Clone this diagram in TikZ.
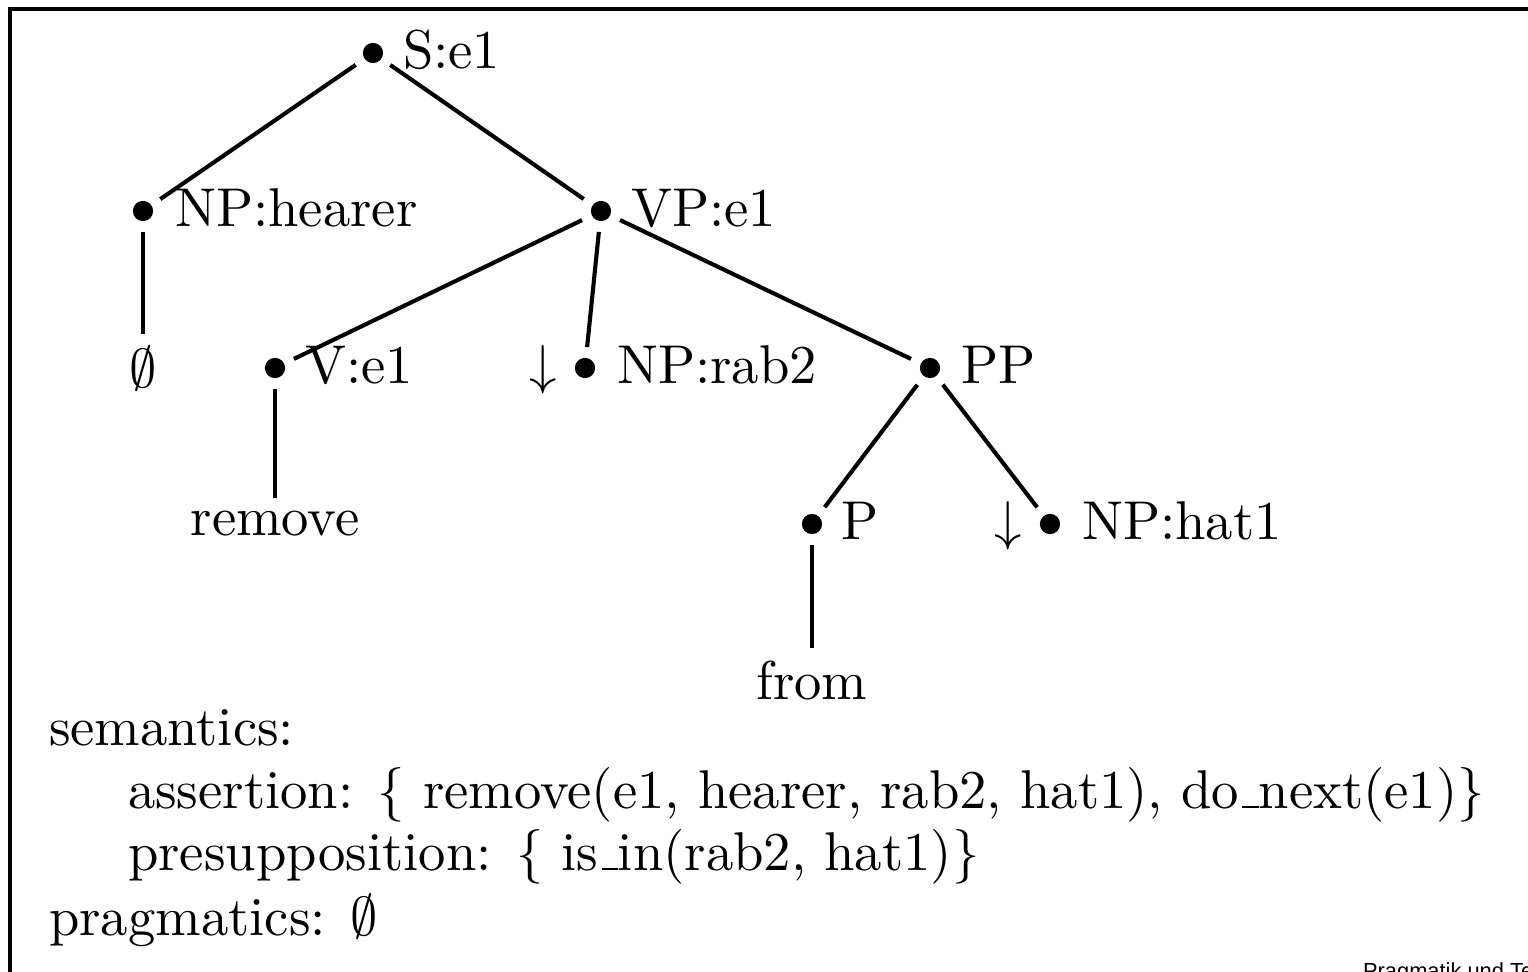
\documentclass[tikz,border=0pt]{standalone}
\usepackage{amsmath}
\usepackage{amssymb}
\usepackage{fontspec}
\newfontfamily\footfont{Liberation Sans}
\newcommand\usc{\leavevmode\kern.06em\vbox{\hrule width.3em}}

\begin{document}
\begin{tikzpicture}[x=0.183pt, y=-0.183pt,
		dot/.style={circle, fill, inner sep=0pt, minimum size=3.7pt, outer sep=2pt},
		lbl/.style={anchor=base west, inner sep=0pt},
		word/.style={anchor=base, inner sep=2pt},
		edge/.style={line width=0.75pt}]
			\useasboundingbox (0, 0) rectangle (1528, 972);
			\draw [line width=0.75pt] (10, 1200) -- (10, 9) -- (1700, 9);
			% tree
			\node at (373, 53) [dot] (s) {};
			\node at (402, 68) [lbl] (slbl) {S:e1};
			\node at (143, 211) [dot] (nph) {};
			\node at (174, 226) [lbl] (nphlbl) {NP:hearer};
			\node at (601, 211) [dot] (vp) {};
			\node at (630, 226) [lbl] (vplbl) {VP:e1};
			\node at (143, 387) [word] (empty) {$\emptyset$};
			\node at (275, 368) [dot] (v) {};
			\node at (304, 383) [lbl] (vlbl) {V:e1};
			\node at (543, 383) [word] (down1) {$\downarrow$};
			\node at (585, 368) [dot] (nprab) {};
			\node at (616, 383) [lbl] (nprablbl) {NP:rab2};
			\node at (930, 368) [dot] (pp) {};
			\node at (960, 383) [lbl] (pplbl) {PP};
			\node at (275, 535) [word] (remove) {remove};
			\node at (812, 524) [dot] (p) {};
			\node at (840, 539) [lbl] (plbl) {P};
			\node at (1008, 539) [word] (down2) {$\downarrow$};
			\node at (1050, 524) [dot] (nphat) {};
			\node at (1081, 539) [lbl] (nphatlbl) {NP:hat1};
			\node at (812, 699) [word] (from) {from};
			\draw [edge](s) -- (nph);
			\draw [edge](s) -- (vp);
			\draw [edge](nph) -- (empty);
			\draw [edge](vp) -- (v);
			\draw [edge](vp) -- (nprab);
			\draw [edge](vp) -- (pp);
			\draw [edge](v) -- (remove);
			\draw [edge](pp) -- (p);
			\draw [edge](pp) -- (nphat);
			\draw [edge](p) -- (from);
			% semantics and pragmatics
			\node at (48, 745) [lbl] (sem) {semantics:};
			\node at (127, 808) [lbl] (assert) {assertion: $\{$ remove(e1, hearer, rab2, hat1), do\usc next(e1)$\}$};
			\node at (127, 870) [lbl] (presup) {presupposition: $\{$ is\usc in(rab2, hat1)$\}$};
			\node at (48, 935) [lbl] (prag) {pragmatics: $\emptyset$};
			\node at (1362, 978) [lbl, font=\footfont\fontsize{4}{5}\selectfont] (foot) {Pragmatik und Te};
		\end{tikzpicture}
\end{document}
